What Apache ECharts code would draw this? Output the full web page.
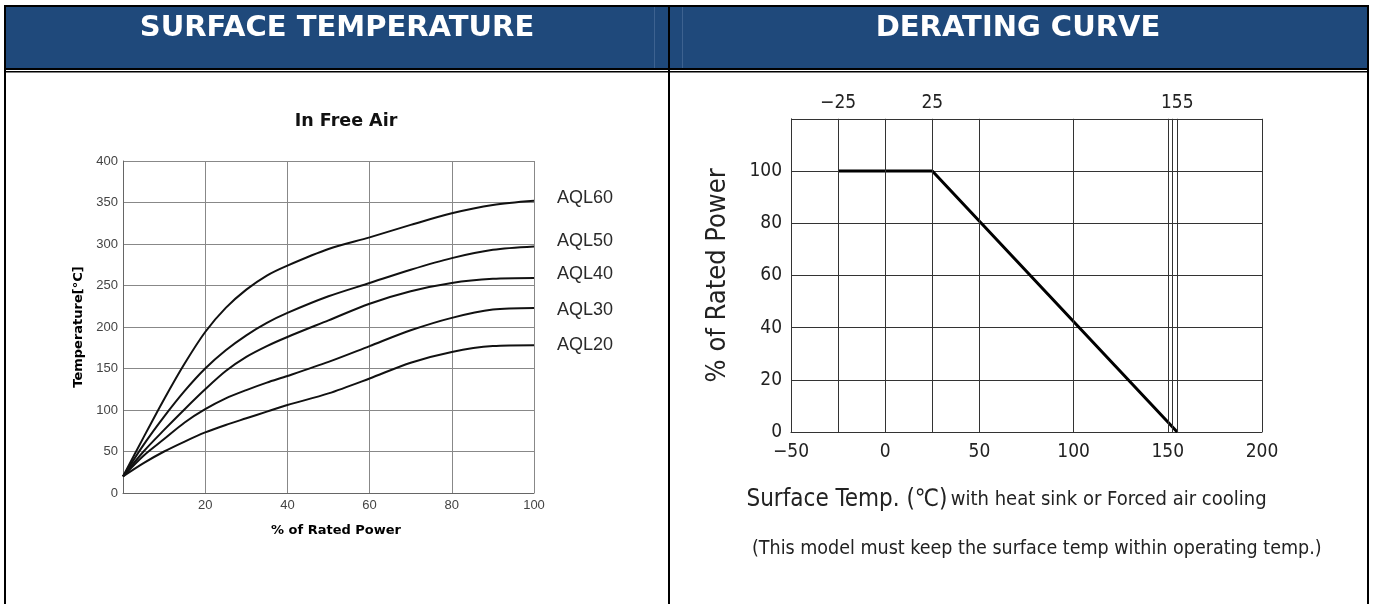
<!DOCTYPE html>
<html>
<head>
<meta charset="utf-8">
<script src="https://cdn.jsdelivr.net/npm/echarts@6/dist/echarts.min.js"></script>
<style>
html,body{margin:0;padding:0;background:#fff;}
#c{width:1374px;height:604px;}
</style>
</head>
<body>
<div id="c"></div>
<script>
// ---- Surface temperature (left) ----
const ratedPower = [0, 5, 10, 15, 20, 25, 30, 35, 40, 50, 60, 70, 80, 90, 100];
const aql60 = [20, 67, 113, 156, 194, 223, 245, 262, 274, 294, 308, 323, 337, 347, 352];
const aql50 = [20, 58, 92, 123, 150, 172, 190, 205, 217, 237, 253, 269, 283, 293, 297];
const aql40 = [20, 50, 76, 101, 125, 147, 164, 177, 188, 208, 228, 243, 253, 258, 259];
const aql30 = [20, 45, 65, 85, 101, 114, 124, 133, 141, 158, 177, 196, 211, 221, 223];
const aql20 = [20, 36, 50, 62, 73, 82, 90, 98, 106, 120, 138, 157, 170, 177, 178];
const seriesNames = ['AQL60', 'AQL50', 'AQL40', 'AQL30', 'AQL20'];

// ---- Derating curve (right) ----
const deratingTemp = [-25, 25, 155];
const deratingPct = [100, 100, 0];
const tempGridLines = [-25, 0, 25, 50, 100, 150, 152.5, 155, 200];
const topTempTicks = [-25, 25, 155];

const narrow = "'Liberation Sans Narrow', 'DejaVu Sans Condensed', 'Noto Sans CJK SC', sans-serif";
const arial = "'Liberation Sans', Arial, sans-serif";
const verdana = "'DejaVu Sans', Verdana, sans-serif";

const labelOffsets = [[0, -3], [0, -5], [0, -4], [0, 2], [0, 0]];
const curves = [aql60, aql50, aql40, aql30, aql20];

const leftSeries = curves.map((vals, i) => ({
  name: seriesNames[i],
  type: 'line',
  xAxisIndex: 0,
  yAxisIndex: 0,
  smooth: 0.3,
  symbol: 'none',
  lineStyle: { color: '#111', width: 2 },
  data: ratedPower.map((x, j) => [x, vals[j]]),
  endLabel: {
    show: true,
    formatter: '{a}',
    distance: 23,
    offset: labelOffsets[i],
    color: '#2a2a2a',
    fontSize: 18,
    fontFamily: arial
  },
  silent: true,
  animation: false
}));

const minus = v => String(v).replace('-', '\u2212');

const chart = echarts.init(document.getElementById('c'), null, { renderer: 'canvas' });
chart.setOption({
  backgroundColor: '#fff',
  animation: false,
  grid: [
    { left: 123, top: 161, width: 411, height: 332, outerBoundsMode: 'none' },
    { left: 791, top: 118.8, width: 471, height: 313.2, outerBoundsMode: 'none' }
  ],
  title: {
    text: 'In Free Air',
    left: 341, top: 107,
    textAlign: 'center',
    textStyle: { fontFamily: verdana, fontWeight: 'bold', fontSize: 17.5, color: '#111' }
  },
  xAxis: [
    {
      gridIndex: 0, type: 'value', min: 0, max: 100, interval: 20,
      axisLine: { show: true, lineStyle: { color: '#666', width: 1 } },
      axisTick: { show: false },
      splitLine: { show: true, lineStyle: { color: '#888', width: 1 } },
      axisLabel: { formatter: v => (v === 0 ? '' : v), color: '#444', fontSize: 13, fontFamily: arial, margin: 6 },
      name: '% of Rated Power', nameLocation: 'middle', nameGap: 31,
      nameTextStyle: { fontFamily: verdana, fontWeight: 'bold', fontSize: 13, color: '#000', padding: [0, 0, 0, 15] }
    },
    {
      gridIndex: 1, type: 'value', min: -50, max: 200, interval: 50, position: 'bottom',
      axisLine: { show: true, onZero: false, lineStyle: { color: '#333', width: 1 } },
      axisTick: { show: false },
      splitLine: { show: false },
      axisLabel: { formatter: minus, color: '#222', fontSize: 19, fontFamily: narrow, margin: 11 },
      name: '{a|Surface Temp. (\u2103)} {b|with heat sink or Forced air cooling}',
      nameLocation: 'middle', nameGap: 56,
      nameTextStyle: {
        padding: [0, 40, 0, 0],
        rich: {
          a: { fontSize: 24, fontFamily: narrow, color: '#222' },
          b: { fontSize: 20, fontFamily: narrow, color: '#222' }
        }
      }
    },
    {
      gridIndex: 1, type: 'value', min: -50, max: 200, position: 'top',
      axisLine: { show: false },
      axisTick: { show: false },
      splitLine: { show: false },
      axisLabel: { customValues: topTempTicks, formatter: minus, color: '#222', fontSize: 19, fontFamily: narrow, margin: 6 }
    }
  ],
  yAxis: [
    {
      gridIndex: 0, type: 'value', min: 0, max: 400, interval: 50,
      axisLine: { show: true, lineStyle: { color: '#666', width: 1 } },
      axisTick: { show: false },
      splitLine: { show: true, lineStyle: { color: '#888', width: 1 } },
      axisLabel: { color: '#444', fontSize: 13, fontFamily: arial, margin: 5 },
      name: 'Temperature[\u00b0C]', nameLocation: 'middle', nameGap: 38,
      nameTextStyle: { fontFamily: verdana, fontWeight: 'bold', fontSize: 13, color: '#000' }
    },
    {
      gridIndex: 1, type: 'value', min: 0, max: 120, interval: 20,
      axisLine: { show: true, onZero: false, lineStyle: { color: '#333', width: 1 } },
      axisTick: { show: false },
      splitLine: { show: true, lineStyle: { color: '#333', width: 1 } },
      axisLabel: { formatter: v => (v === 120 ? '' : v), color: '#222', fontSize: 19, fontFamily: narrow, margin: 9 },
      name: '% of Rated Power', nameLocation: 'middle', nameGap: 60,
      nameTextStyle: { fontFamily: narrow, fontSize: 27, color: '#222' }
    }
  ],
  series: leftSeries.concat([
    {
      name: 'Derating',
      type: 'line',
      xAxisIndex: 1,
      yAxisIndex: 1,
      symbol: 'none',
      lineStyle: { color: '#000', width: 3 },
      data: deratingTemp.map((t, i) => [t, deratingPct[i]]),
      markLine: {
        silent: true,
        symbol: 'none',
        label: { show: false },
        lineStyle: { color: '#333', width: 1, type: 'solid' },
        emphasis: { disabled: true },
        data: tempGridLines.map(v => ({ xAxis: v }))
      },
      z: 3,
      silent: true
    }
  ]),
  graphic: [
    { type: 'rect', shape: { x: 5, y: 6, width: 1362, height: 62 }, style: { fill: '#1F497B' }, silent: true },
    { type: 'rect', shape: { x: 654, y: 7, width: 1, height: 61 }, style: { fill: '#3D6290' }, silent: true },
    { type: 'rect', shape: { x: 682, y: 7, width: 1, height: 61 }, style: { fill: '#3D6290' }, silent: true },
    { type: 'rect', shape: { x: 4, y: 5, width: 1365, height: 2 }, style: { fill: '#000' }, silent: true },
    { type: 'rect', shape: { x: 4, y: 68, width: 1365, height: 2 }, style: { fill: '#000' }, silent: true },
    { type: 'rect', shape: { x: 4, y: 71, width: 1365, height: 1.5 }, style: { fill: '#000' }, silent: true },
    { type: 'rect', shape: { x: 4, y: 5, width: 2, height: 599 }, style: { fill: '#000' }, silent: true },
    { type: 'rect', shape: { x: 668, y: 5, width: 2, height: 599 }, style: { fill: '#000' }, silent: true },
    { type: 'rect', shape: { x: 1367, y: 5, width: 2, height: 599 }, style: { fill: '#000' }, silent: true },
    {
      type: 'text', x: 337, y: 28, silent: true,
      style: { text: 'SURFACE TEMPERATURE', fill: '#fff', font: "bold 29px 'DejaVu Sans', sans-serif", textAlign: 'center', textVerticalAlign: 'middle' }
    },
    {
      type: 'text', x: 1018, y: 28, silent: true,
      style: { text: 'DERATING CURVE', fill: '#fff', font: "bold 29px 'DejaVu Sans', sans-serif", textAlign: 'center', textVerticalAlign: 'middle' }
    },
    {
      type: 'text', x: 752, y: 549, silent: true,
      style: { text: '(This model must keep the surface temp within operating temp.)', fill: '#222', font: "19.5px " + narrow, textAlign: 'left', textVerticalAlign: 'middle' }
    }
  ]
});
</script>
</body>
</html>
